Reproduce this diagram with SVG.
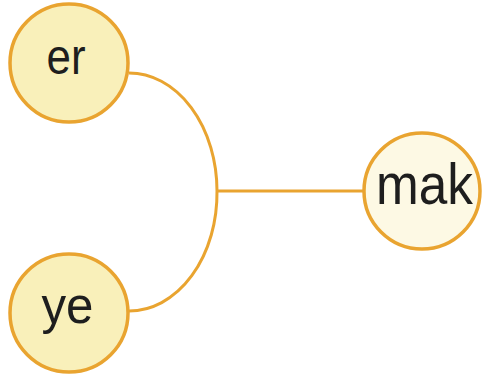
<svg xmlns="http://www.w3.org/2000/svg" width="485" height="379" viewBox="0 0 485 379">
<style>
.node{stroke:#e9a430;stroke-width:3.5}
.lbl{font-family:"Liberation Sans",Arial,sans-serif;fill:#1e1e1e;text-anchor:middle}
.edge{fill:none;stroke:#e9a430;stroke-width:3}
</style>
<rect width="485" height="379" fill="#fff"/>
<g id="connectors">
<path class="edge" d="M129,73 A88,118 0 0 1 217,191 A88,118 0 0 1 129,311"/>
<path class="edge" d="M217,191 H364"/>
</g>
<g id="er">
<circle class="node" cx="69" cy="63" r="59" fill="#f9f0ba"/>
<text class="lbl" x="66" y="74" font-size="50" textLength="39" lengthAdjust="spacingAndGlyphs">er</text>
</g>
<g id="ye">
<circle class="node" cx="69" cy="313" r="59" fill="#f9f0ba"/>
<text class="lbl" x="67.5" y="323" font-size="52" textLength="52" lengthAdjust="spacingAndGlyphs">ye</text>
</g>
<g id="mak">
<circle class="node" cx="422" cy="191" r="58" fill="#fdf9e4"/>
<text class="lbl" x="424.5" y="204" font-size="58" textLength="97" lengthAdjust="spacingAndGlyphs">mak</text>
</g>
</svg>
